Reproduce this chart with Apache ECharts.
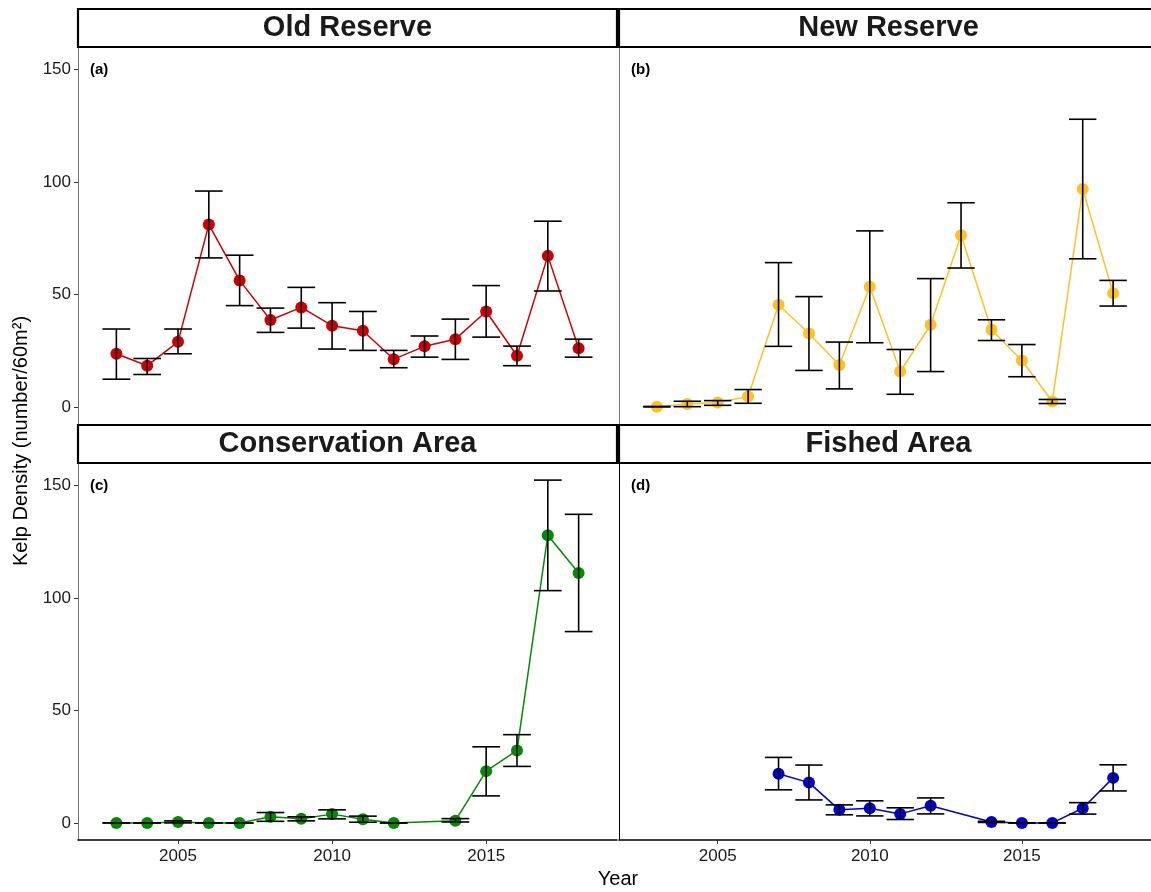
<!DOCTYPE html>
<html>
<head>
<meta charset="utf-8">
<title>Kelp Density</title>
<script src="https://cdn.jsdelivr.net/npm/echarts@6/dist/echarts.min.js"></script>
<style>
  html, body { margin: 0; padding: 0; background: #fff; }
  #chart { width: 1151px; height: 892px; }
</style>
</head>
<body>
<div id="chart"></div>
<script>
// survey years
const years = [2003, 2004, 2005, 2006, 2007, 2008, 2009, 2010, 2011, 2012, 2013, 2014, 2015, 2016, 2017, 2018];

// panel names and tags
const panelNames = ['Old Reserve', 'New Reserve', 'Conservation Area', 'Fished Area'];
const panelTags = ['(a)', '(b)', '(c)', '(d)'];
const panelColors = ['#cd0000', '#ffc125', '#008b00', '#0000cd'];

// mean kelp density, with lower / upper error bar ends (null = not surveyed)
const oldMean = [23.6, 18.3, 28.9, 81.0, 56.2, 38.6, 44.2, 36.1, 33.8, 21.2, 26.9, 30.1, 42.4, 22.7, 67.1, 26.1];
const oldLow  = [12.3, 14.4, 23.6, 66.2, 45.0, 33.1, 35.0, 25.7, 25.1, 17.4, 22.1, 21.1, 31.0, 18.3, 51.5, 22.1];
const oldHigh = [34.6, 21.5, 34.6, 95.9, 67.4, 43.9, 53.1, 46.3, 42.4, 25.1, 31.5, 39.0, 53.9, 27.0, 82.5, 30.1];

const newMean = [0.1, 1.3, 1.9, 4.6, 45.4, 32.6, 18.6, 53.4, 15.7, 36.5, 76.3, 34.3, 20.6, 2.4, 96.8, 50.5];
const newLow  = [0.0, 0.1, 0.7, 1.6, 26.9, 16.2, 8.0, 28.5, 5.6, 15.7, 61.7, 29.5, 13.4, 1.5, 65.8, 44.8];
const newHigh = [0.2, 2.5, 2.8, 7.7, 64.1, 49.0, 28.8, 78.2, 25.5, 57.0, 90.7, 38.7, 27.7, 3.3, 127.8, 56.2];

const consMean = [0, 0, 0.4, 0, 0, 2.7, 1.8, 3.9, 1.6, 0, null, 1.0, 23.0, 32.2, 127.8, 111.0];
const consLow  = [0, 0, 0.0, 0, 0, 0.7, 0.9, 1.8, 0.3, 0, null, 0.4, 12.0, 25.1, 103.2, 85.0];
const consHigh = [0, 0, 0.9, 0, 0, 4.6, 2.7, 5.8, 3.0, 0, null, 1.9, 33.8, 39.2, 152.3, 137.1];

const fishMean = [null, null, null, null, 21.8, 17.9, 5.8, 6.5, 4.0, 7.6, null, 0.4, 0, 0, 6.5, 20.0];
const fishLow  = [null, null, null, null, 14.7, 10.2, 3.6, 3.1, 1.5, 4.0, null, 0.2, 0, 0, 3.9, 14.2];
const fishHigh = [null, null, null, null, 29.1, 25.7, 8.0, 9.8, 6.7, 11.1, null, 0.7, 0, 0, 9.0, 25.8];

const yTicks = [0, 50, 100, 150];
const xTicks = [2005, 2010, 2015];

const means = [oldMean, newMean, consMean, fishMean];
const lows = [oldLow, newLow, consLow, fishLow];
const highs = [oldHigh, newHigh, consHigh, fishHigh];

const FONT = '"Liberation Sans", Arial, sans-serif';
const chart = echarts.init(document.getElementById('chart'), null, { renderer: 'canvas' });

// panel boxes (pixels)
const cols = [78, 619];
const rows = [47, 463];
const panelW = 539;
const panelH = 377;

const grids = [], xAxes = [], yAxes = [], series = [], graphics = [];

for (let i = 0; i < 4; i++) {
  const c = i % 2, r = Math.floor(i / 2);
  grids.push({ left: cols[c], top: rows[r], width: panelW, height: panelH });

  xAxes.push({
    gridIndex: i, type: 'value', min: 2001.755, max: 2019.245,
    splitLine: { show: false },
    axisLine: { show: r === 1, onZero: false, lineStyle: { color: '#000', width: 1.5 } },
    axisTick: { show: r === 1, length: 4, customValues: xTicks, lineStyle: { color: '#333' } },
    axisLabel: {
      show: r === 1, customValues: xTicks, color: '#1a1a1a', fontSize: 17, fontFamily: FONT, margin: 8,
      formatter: v => String(v)
    }
  });

  yAxes.push({
    gridIndex: i, type: 'value', min: -7.6, max: 159.9,
    splitLine: { show: false },
    axisLine: { show: true, onZero: false, lineStyle: { color: i === 3 ? '#000' : '#777', width: 1 } },
    axisTick: { show: c === 0, length: 4, customValues: yTicks, lineStyle: { color: '#333' } },
    axisLabel: { show: c === 0, customValues: yTicks, color: '#1a1a1a', fontSize: 17, fontFamily: FONT, margin: 7 }
  });

  const pts = [], bars = [];
  years.forEach((y, k) => {
    if (means[i][k] != null) {
      pts.push([y, means[i][k]]);
      bars.push([y, lows[i][k], highs[i][k]]);
    }
  });

  series.push({
    type: 'line', xAxisIndex: i, yAxisIndex: i, data: pts,
    symbol: 'circle', symbolSize: 12, showSymbol: true,
    itemStyle: { color: panelColors[i] },
    lineStyle: { color: panelColors[i], width: 1.5 },
    z: 2, animation: false
  });

  series.push({
    type: 'custom', xAxisIndex: i, yAxisIndex: i, data: bars, z: 3,
    animation: false,
    renderItem: function (params, api) {
      const x = api.value(0), lo = api.value(1), hi = api.value(2);
      const top = api.coord([x, hi]);
      const bot = api.coord([x, lo]);
      const tl = api.coord([x - 0.45, hi]), tr = api.coord([x + 0.45, hi]);
      const bl = api.coord([x - 0.45, lo]), br = api.coord([x + 0.45, lo]);
      const style = { stroke: '#000', lineWidth: 1.6 };
      return {
        type: 'group',
        children: [
          { type: 'line', shape: { x1: top[0], y1: top[1], x2: bot[0], y2: bot[1] }, style: style },
          { type: 'line', shape: { x1: tl[0], y1: tl[1], x2: tr[0], y2: tr[1] }, style: style },
          { type: 'line', shape: { x1: bl[0], y1: bl[1], x2: br[0], y2: br[1] }, style: style }
        ]
      };
    }
  });

  // facet strip
  const stripTop = r === 0 ? 9 : 425;
  graphics.push({
    type: 'rect', shape: { x: cols[c], y: stripTop, width: panelW, height: 38 },
    style: { fill: '#fff', stroke: '#000', lineWidth: 2.2 }, z: 10
  });
  graphics.push({
    type: 'text', x: cols[c] + panelW / 2, y: stripTop + 19,
    style: { text: panelNames[i], font: 'bold 29px ' + FONT, fill: '#1a1a1a', align: 'center', verticalAlign: 'middle' }, z: 11
  });
  graphics.push({
    type: 'text', x: cols[c] + 12, y: rows[r] + 23,
    style: { text: panelTags[i], font: 'bold 15px ' + FONT, fill: '#000', align: 'left', verticalAlign: 'middle' }, z: 11
  });
}

graphics.push({
  type: 'text', x: 618, y: 879,
  style: { text: 'Year', font: '20px ' + FONT, fill: '#000', align: 'center', verticalAlign: 'middle' }
});
graphics.push({
  type: 'text', x: 21, y: 441, rotation: Math.PI / 2,
  style: { text: 'Kelp Density (number/60m²)', font: '20px ' + FONT, fill: '#000', align: 'center', verticalAlign: 'middle' }
});

chart.setOption({
  backgroundColor: '#fff',
  animation: false,
  grid: grids,
  xAxis: xAxes,
  yAxis: yAxes,
  series: series,
  graphic: graphics
});
</script>
</body>
</html>
